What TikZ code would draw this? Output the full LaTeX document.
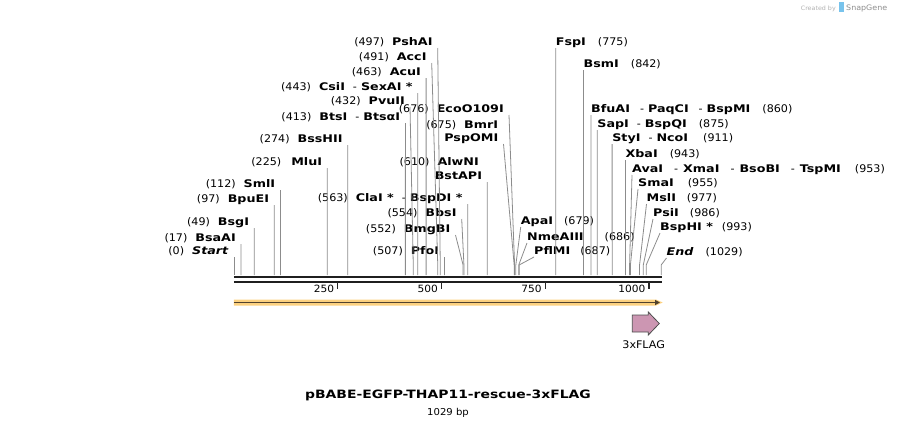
\documentclass[tikz,border=0pt]{standalone}
\usepackage{fontspec}
\setmainfont{DejaVu Sans}[FakeStretch=1.06,
	BoldFeatures={FakeStretch=1.21},
	BoldItalicFeatures={FakeStretch=1.21}]
\usepackage{tikz}
\usetikzlibrary{arrows.meta}

\newcommand{\enz}[1]{\textbf{#1}}
\newcommand{\dsh}{\hspace{8pt}-\hspace{4pt}}
\newcommand{\wdsh}{\hspace{11pt}-\hspace{5pt}}

\begin{document}
\begin{tikzpicture}[x=1pt, y=-1pt,
	every node/.style={font=\fontsize{10.5}{12}\selectfont, inner ysep=0.5pt, text height=8pt, text depth=1.5pt},
	lft/.style={anchor=south east, inner xsep=5pt},
	rgt/.style={anchor=south west, inner xsep=0pt},
	cut/.style={draw=black!45, line width=0.8pt, to path={-- ([yshift=10pt]\tikztotarget) -- (\tikztotarget)}},
	tick/.style={line width=1.5pt, draw=black!85}]
	\useasboundingbox (0,0) rectangle (897,426);

	% cut sites on the backbone
	\foreach \bp in {0,17,49,97,112,225,274,413,432,443,463,491,497,507,552,554,563,610,675,676,679,686,687,775,842,860,875,911,943,953,955,977,986,993,1029}
		\coordinate (s\bp) at ({233.9+0.4152*\bp},275);

	\node (Start) at (233.9,257) [lft] {(0)\hspace{8pt}\enz{\textit{Start}}};
	\node (BsaAI) at (241,244) [lft] {(17)\hspace{8pt}\enz{BsaAI}};
	\node (BsgI) at (254.2,228) [lft] {(49)\hspace{8pt}\enz{BsgI}};
	\node (BpuEI) at (274.2,205) [lft] {(97)\hspace{8pt}\enz{BpuEI}};
	\node (SmlI) at (280.4,190) [lft] {(112)\hspace{8pt}\enz{SmlI}};
	\node (MluI) at (327.3,168) [lft] {(225)\hspace{10pt}\enz{MluI}};
	\node (BssHII) at (347.7,145) [lft] {(274)\hspace{8pt}\enz{BssHII}};
	\node (BtsI) at (405.4,123) [lft] {(413)\hspace{8pt}\enz{BtsI}\dsh\enz{BtsαI}};
	\node (PvuII) at (410,107) [lft] {(432)\hspace{8pt}\enz{PvuII}};
	\node (CsiI) at (417.8,93) [lft] {(443)\hspace{8pt}\enz{CsiI}\dsh\enz{SexAI *}};
	\node (AcuI) at (426.1,78) [lft] {(463)\hspace{8pt}\enz{AcuI}};
	\node (AccI) at (431.7,63) [lft] {(491)\hspace{8pt}\enz{AccI}};
	\node (PshAI) at (437.7,48) [lft] {(497)\hspace{8pt}\enz{PshAI}};

	\node (EcoO) at (509,115) [lft] {(676)\hspace{8pt}\enz{EcoO109I}};
	\node (BmrI) at (503.3,130.3) [lft] {(675)\hspace{8pt}\enz{BmrI}};
	\node (PspOMI) at (503.5,144) [lft] {\enz{PspOMI}};
	\node (AlwNI) at (484,168) [lft] {(610)\hspace{8pt}\enz{AlwNI}};
	\node (BstAPI) at (487.2,182) [lft] {\enz{BstAPI}};
	\node (ClaI) at (467.7,204) [lft] {(563)\hspace{8pt}\enz{ClaI *}\dsh\enz{BspDI *}};
	\node (BbsI) at (461.7,219) [lft] {(554)\hspace{8pt}\enz{BbsI}};
	\node (BmgBI) at (455.5,235) [lft] {(552)\hspace{8pt}\enz{BmgBI}};
	\node (PfoI) at (444.4,257) [lft] {(507)\hspace{8pt}\enz{PfoI}};

	\node (ApaI) at (520.7,227) [rgt] {\enz{ApaI}\hspace{11pt}(679)};
	\node (NmeAIII) at (527,243) [rgt] {\enz{NmeAIII}\hspace{21pt}(686)};
	\node (PflMI) at (534,257) [rgt] {\enz{PflMI}\hspace{10pt}(687)};
	\node (FspI) at (555.7,48) [rgt] {\enz{FspI}\hspace{12pt}(775)};
	\node (BsmI) at (583.5,70) [rgt] {\enz{BsmI}\hspace{12pt}(842)};
	\node (BfuAI) at (591,115) [rgt] {\enz{BfuAI}\hspace{10pt}-\hspace{4pt}\enz{PaqCI}\hspace{10pt}-\hspace{4pt}\enz{BspMI}\hspace{12pt}(860)};
	\node (SapI) at (597.2,130) [rgt] {\enz{SapI}\dsh\enz{BspQI}\hspace{12pt}(875)};
	\node (StyI) at (612.1,144) [rgt] {\enz{StyI}\dsh\enz{NcoI}\hspace{15pt}(911)};
	\node (XbaI) at (625.4,160) [rgt] {\enz{XbaI}\hspace{12pt}(943)};
	\node (AvaI) at (632,175) [rgt] {\enz{AvaI}\wdsh\enz{XmaI}\wdsh\enz{BsoBI}\wdsh\enz{TspMI}\hspace{14pt}(953)};
	\node (SmaI) at (638,189) [rgt] {\enz{SmaI}\hspace{14pt}(955)};
	\node (MslI) at (646.5,204) [rgt] {\enz{MslI}\hspace{11pt}(977)};
	\node (PsiI) at (653,219) [rgt] {\enz{PsiI}\hspace{11pt}(986)};
	\node (BspHI) at (660,233) [rgt] {\enz{BspHI *}\hspace{9pt}(993)};
	\node (End) at (666.5,258) [rgt] {\enz{\textit{End}}\hspace{12pt}(1029)};

	\path [cut]	(Start.south east) edge (s0)
			(BsaAI.south east) edge (s17)
			(BsgI.south east) edge (s49)
			(BpuEI.south east) edge (s97)
			(SmlI.south east) edge (s112)
			(MluI.south east) edge (s225)
			(BssHII.south east) edge (s274)
			(BtsI.south east) edge (s413)
			(PvuII.south east) edge (s432)
			(CsiI.south east) edge (s443)
			(AcuI.south east) edge (s463)
			(AccI.south east) edge (s491)
			(PshAI.south east) edge (s497)
			(EcoO.south east) edge (s676)
			(PspOMI.south east) edge (s675)
			(BstAPI.south east) edge (s610)
			(ClaI.south east) edge (s563)
			(BbsI.south east) edge (s554)
			(BmgBI.south east) edge (s552)
			(PfoI.south east) edge (s507)
			(ApaI.south west) edge (s679)
			(NmeAIII.south west) edge (s686)
			(PflMI.south west) edge (s687)
			(FspI.south west) edge (s775)
			(BsmI.south west) edge (s842)
			(BfuAI.south west) edge (s860)
			(SapI.south west) edge (s875)
			(StyI.south west) edge (s911)
			(XbaI.south west) edge (s943)
			(AvaI.south west) edge (s953)
			(SmaI.south west) edge (s955)
			(MslI.south west) edge (s977)
			(PsiI.south west) edge (s986)
			(BspHI.south west) edge (s993)
			(End.south west) edge (s1029);

	% backbone and ruler
	\draw [line width=2.5pt, black!88] (233.9,277) -- (661.9,277);
	\draw [line width=2pt, black!88] (233.9,281.7) -- (661.9,281.7);
	\foreach \bp in {250,500,750,1000} {
		\draw [tick] ({233.9+0.4152*\bp},282) -- ++(0,6.5);
		\node [anchor=east, inner xsep=0pt, font=\fontsize{10}{12}\selectfont] at ({233.9+0.4152*\bp-3.5},289.5) {\bp};
	}

	% open reading frame
	\fill [color={rgb,255:red,252;green,209;blue,128}] (233.9,299.5) -- (656,299.5) -- (662.7,302.5) -- (656,305.5) -- (233.9,305.5) -- cycle;
	\draw [line width=1.6pt, color={rgb,255:red,80;green,66;blue,46}, -{Triangle[length=5pt,width=5pt]}] (233.9,302.5) -- (660,302.5);

	% feature
	\draw [fill={rgb,255:red,204;green,150;blue,178}, draw=black!70, line width=0.8pt] (632.3,315) -- (648.3,315) -- (648.3,312) -- (659.3,323.5) -- (648.3,335) -- (648.3,332) -- (632.3,332) -- cycle;
	\node (flag) at (643.7,345.5) [font=\fontsize{10.5}{12}\selectfont] {3xFLAG};

	\node (title) at (448,395) [font=\fontsize{11.5}{13}\selectfont\bfseries] {pBABE-EGFP-THAP11-rescue-3xFLAG};
	\node (size) at (448,412) [font=\fontsize{9.5}{11}\selectfont] {1029 bp};

	\node (made) at (836,7) [anchor=east, inner xsep=0pt, text=black!30, font=\fontsize{6}{7}\selectfont] {Created by};
	\fill [color={rgb,255:red,120;green,195;blue,236}] (839,2) rectangle (843.5,12);
	\node (snap) at (846,7) [anchor=west, inner xsep=0pt, text=black!45, font=\fontsize{7.5}{9}\selectfont] {SnapGene};
\end{tikzpicture}
\end{document}
